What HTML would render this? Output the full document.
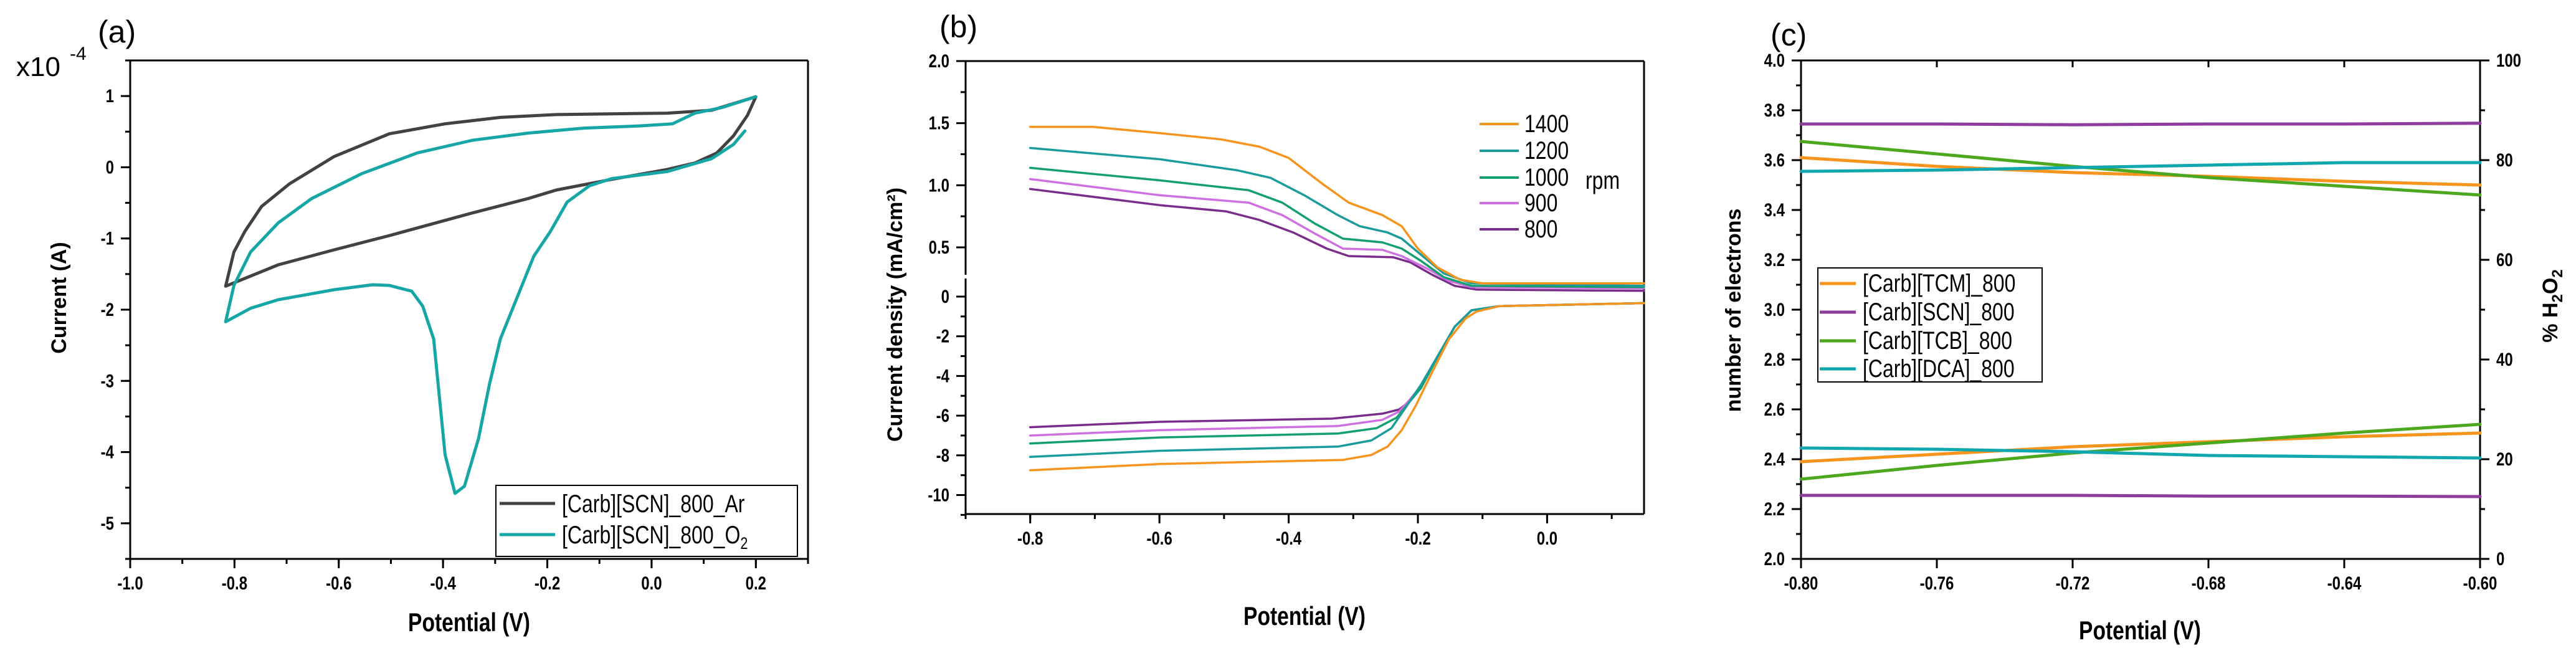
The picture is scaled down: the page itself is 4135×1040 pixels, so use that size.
<!DOCTYPE html>
<html><head><meta charset="utf-8">
<style>
html,body{margin:0;padding:0;background:#fff;}
svg{display:block;}
text{font-family:"Liberation Sans Narrow","Liberation Sans",sans-serif;}
.tk{font-weight:bold;font-size:30px;}
.ttl{font-weight:bold;font-size:42px;}
.yt{font-family:"Liberation Sans",sans-serif;font-weight:bold;font-size:34px;}
.lg{font-size:40px;}
.pl{font-family:"Liberation Sans",sans-serif;font-size:50px;}
</style></head>
<body>
<svg id="fig" xmlns="http://www.w3.org/2000/svg" width="4135" height="1040" viewBox="0 0 4135 1040"></svg>
<script>
// ---------- Panel (a) data: cyclic voltammetry ----------
const aArV = [-0.817,-0.801,-0.780,-0.748,-0.694,-0.609,-0.503,-0.396,-0.29,-0.183,0.030,0.115,0.2,0.184,0.157,0.125,0.083,0.03,-0.077,-0.183,-0.237,-0.343,-0.503,-0.609,-0.716,-0.817];
const aArI = [-1.67,-1.19,-0.9,-0.55,-0.23,0.15,0.47,0.61,0.70,0.74,0.76,0.80,0.99,0.73,0.44,0.2,0.06,-0.03,-0.17,-0.32,-0.44,-0.64,-0.96,-1.16,-1.37,-1.67];
const aO2V = [0.179,0.157,0.115,0.03,-0.077,-0.119,-0.162,-0.194,-0.226,-0.258,-0.29,-0.311,-0.332,-0.359,-0.377,-0.396,-0.418,-0.439,-0.46,-0.503,-0.535,-0.609,-0.716,-0.769,-0.817,-0.801,-0.769,-0.716,-0.652,-0.556,-0.450,-0.343,-0.237,-0.13,-0.024,0.04,0.083,0.136,0.2];
const aO2I = [0.51,0.32,0.12,-0.06,-0.16,-0.26,-0.49,-0.9,-1.25,-1.83,-2.41,-3.05,-3.81,-4.48,-4.58,-4.04,-2.41,-1.95,-1.74,-1.66,-1.65,-1.72,-1.86,-1.98,-2.17,-1.66,-1.19,-0.78,-0.44,-0.09,0.2,0.38,0.48,0.55,0.58,0.61,0.76,0.84,0.99];
const aXTicks = [-1.0,-0.8,-0.6,-0.4,-0.2,0.0,0.2];
const aXLabels = ["-1.0","-0.8","-0.6","-0.4","-0.2","0.0","0.2"];
const aYTicks = [1,0,-1,-2,-3,-4,-5];
const aYLabels = ["1","0","-1","-2","-3","-4","-5"];

// ---------- Panel (b) data: RRDE ----------
const bRpm = ["1400","1200","1000","900","800"];
const bUpV1400 = [-0.8,-0.703,-0.6,-0.505,-0.445,-0.4,-0.35,-0.307,-0.255,-0.225,-0.2,-0.17,-0.135,-0.1,0.15];
const bUpJ1400 = [1.47,1.47,1.42,1.37,1.31,1.22,1.02,0.86,0.76,0.67,0.49,0.34,0.24,0.21,0.21];
const bUpV1200 = [-0.8,-0.6,-0.479,-0.428,-0.376,-0.324,-0.29,-0.247,-0.225,-0.195,-0.16,-0.117,0.15];
const bUpJ1200 = [1.30,1.21,1.12,1.06,0.92,0.76,0.67,0.62,0.57,0.44,0.29,0.21,0.19];
const bUpV1000 = [-0.8,-0.6,-0.462,-0.41,-0.359,-0.316,-0.255,-0.225,-0.195,-0.16,-0.117,0.15];
const bUpJ1000 = [1.14,1.04,0.96,0.86,0.69,0.57,0.54,0.49,0.39,0.26,0.19,0.18];
const bUpV900 = [-0.8,-0.6,-0.462,-0.41,-0.359,-0.316,-0.255,-0.225,-0.186,-0.152,-0.117,0.15];
const bUpJ900 = [1.05,0.92,0.86,0.76,0.61,0.49,0.48,0.43,0.33,0.23,0.18,0.17];
const bUpV800 = [-0.8,-0.6,-0.497,-0.445,-0.393,-0.341,-0.307,-0.238,-0.212,-0.178,-0.143,-0.109,0.15];
const bUpJ800 = [0.97,0.84,0.79,0.72,0.62,0.49,0.43,0.42,0.38,0.28,0.19,0.16,0.15];
const bLoV1400 = [-0.8,-0.6,-0.316,-0.272,-0.247,-0.225,-0.203,-0.178,-0.152,-0.126,-0.109,-0.074,0.15];
const bLoJ1400 = [-8.75,-8.44,-8.23,-7.98,-7.56,-6.73,-5.48,-3.81,-2.15,-1.1,-0.75,-0.48,-0.33];
const bLoV1200 = [-0.8,-0.6,-0.324,-0.272,-0.241,-0.221,-0.195,-0.169,-0.143,-0.117,-0.074,0.15];
const bLoJ1200 = [-8.08,-7.77,-7.56,-7.25,-6.63,-5.69,-4.44,-2.98,-1.52,-0.69,-0.48,-0.33];
const bLoV1000 = [-0.8,-0.6,-0.324,-0.264,-0.233,-0.212,-0.195,-0.169,-0.143,-0.117,-0.074,0.15];
const bLoJ1000 = [-7.4,-7.1,-6.9,-6.63,-6.1,-5.27,-4.6,-3.0,-1.52,-0.69,-0.48,-0.33];
const bLoV900 = [-0.8,-0.6,-0.324,-0.255,-0.229,-0.212,-0.195,-0.169,-0.143,-0.117,-0.074,0.15];
const bLoJ900 = [-7.0,-6.73,-6.52,-6.21,-5.79,-5.17,-4.5,-3.0,-1.52,-0.69,-0.48,-0.33];
const bLoV800 = [-0.8,-0.6,-0.333,-0.255,-0.229,-0.212,-0.195,-0.169,-0.143,-0.117,-0.074,0.15];
const bLoJ800 = [-6.58,-6.31,-6.15,-5.9,-5.69,-5.27,-4.44,-2.98,-1.52,-0.69,-0.48,-0.33];
const bXTicks = [-0.8,-0.6,-0.4,-0.2,0.0];
const bXLabels = ["-0.8","-0.6","-0.4","-0.2","0.0"];
const bUpTicks = [2.0,1.5,1.0,0.5];
const bUpLabels = ["2.0","1.5","1.0","0.5"];
const bLoTicks = [0,-2,-4,-6,-8,-10];
const bLoLabels = ["0","-2","-4","-6","-8","-10"];

// ---------- Panel (c) data ----------
const cNames = ["[Carb][TCM]_800","[Carb][SCN]_800","[Carb][TCB]_800","[Carb][DCA]_800"];
const cV = [-0.8,-0.76,-0.72,-0.68,-0.64,-0.6];
const cNTCM = [3.61,3.575,3.55,3.535,3.515,3.50];
const cNSCN = [3.745,3.745,3.742,3.745,3.745,3.748];
const cNTCB = [3.675,3.625,3.575,3.53,3.495,3.46];
const cNDCA = [3.555,3.56,3.57,3.58,3.59,3.59];
const cHTCM = [19.5,21,22.5,23.5,24.5,25.25];
const cHSCN = [12.75,12.75,12.75,12.6,12.6,12.5];
const cHTCB = [16,18.75,21.25,23.25,25.25,27];
const cHDCA = [22.25,22,21.5,20.75,20.5,20.25];
const cXTicks = [-0.8,-0.76,-0.72,-0.68,-0.64,-0.6];
const cXLabels = ["-0.80","-0.76","-0.72","-0.68","-0.64","-0.60"];
const cYTicks = [2.0,2.2,2.4,2.6,2.8,3.0,3.2,3.4,3.6,3.8,4.0];
const cYLabels = ["2.0","2.2","2.4","2.6","2.8","3.0","3.2","3.4","3.6","3.8","4.0"];
const cRTicks = [0,20,40,60,80,100];
const cRLabels = ["0","20","40","60","80","100"];

const NS = "http://www.w3.org/2000/svg";
const fig = document.getElementById('fig');
const NARROW = {tk: 0.8, ttl: 0.8, lg: 0.8};
function mk(tag, parent, name, inter) {
  const e = document.createElementNS(NS, tag);
  
  
  parent.appendChild(e);
  return e;
}
function lin(d0, d1, p0, p1) { return v => p0 + (v - d0) * (p1 - p0) / (d1 - d0); }
function seg(parent, name, x1, y1, x2, y2, w) {
  const l = mk('line', parent, name, false);
  l.setAttribute('x1', x1); l.setAttribute('y1', y1); l.setAttribute('x2', x2); l.setAttribute('y2', y2);
  l.setAttribute('stroke', '#000'); l.setAttribute('stroke-width', w || 3);
  return l;
}
function txt(parent, name, s, x, y, cls, anchor) {
  const t = mk('text', parent, name, false);
  t.setAttribute('class', cls);
  t.setAttribute('text-anchor', anchor || 'start');
  if (NARROW[cls]) {
    t.setAttribute('x', 0); t.setAttribute('y', 0);
    t.setAttribute('transform', 'translate(' + x + ',' + y + ') scale(' + NARROW[cls] + ',1)');
  } else {
    t.setAttribute('x', x); t.setAttribute('y', y);
  }
  t.textContent = s;
  return t;
}
function curve(parent, name, xs, ys, X, Y, color, w) {
  const p = mk('polyline', parent, name, false);
  p.setAttribute('points', xs.map((v, i) => X(v).toFixed(1) + ',' + Y(ys[i]).toFixed(1)).join(' '));
  p.setAttribute('fill', 'none'); p.setAttribute('stroke', color);
  p.setAttribute('stroke-width', w); p.setAttribute('stroke-linejoin', 'round'); p.setAttribute('stroke-linecap', 'round');
  return p;
}

// ================= Panel A =================
(function () {
  const g = mk('g', fig, 'panel-a', false);
  const L = 209, R = 1297, T = 97, B = 897;
  const X = lin(-1.0, 0.3, L, R), Y = lin(1.5, -5.5, T, B);
  seg(g, 'plot-frame-top', L, T, R, T); seg(g, 'plot-frame-bottom', L - 8, B, R, B);
  seg(g, 'plot-frame-left', L, T, L, B); seg(g, 'plot-frame-right', R, T, R, B);
  for (let v = -1.0; v <= 0.301; v += 0.1) seg(g, 'x-minor-tick', X(v), B, X(v), B + 8);
  aXTicks.forEach((v, i) => { seg(g, 'x-major-tick', X(v), B, X(v), B + 15); txt(g, 'x-tick-label', aXLabels[i], X(v), 946, 'tk', 'middle'); });
  for (let v = -5.5; v <= 1.5; v += 0.5) seg(g, 'y-minor-tick', L - 8, Y(v), L, Y(v));
  aYTicks.forEach((v, i) => { seg(g, 'y-major-tick', L - 15, Y(v), L, Y(v)); txt(g, 'y-tick-label', aYLabels[i], L - 26, Y(v) + 10, 'tk', 'end'); });
  curve(g, 'series-ar', aArV, aArI, X, Y, '#424242', 5);
  curve(g, 'series-o2', aO2V, aO2I, X, Y, '#17a6a6', 5);
  txt(g, 'x-axis-title', 'Potential (V)', 753, 1013, 'ttl', 'middle');
  const yt = txt(g, 'y-axis-title', 'Current (A)', 0, 0, 'yt', 'middle');
  yt.setAttribute('transform', 'translate(106,478) rotate(-90)');
  const sc = txt(g, 'y-scale-factor', 'x10', 26, 122, 'pl', 'start'); sc.setAttribute('style', 'font-size:44px');
  const ex = txt(g, 'y-scale-exponent', '-4', 112, 96, 'pl', 'start'); ex.setAttribute('style', 'font-size:30px');
  txt(g, 'panel-label-a', '(a)', 157, 68, 'pl');
  const lb = mk('rect', g, 'legend-box', false);
  lb.setAttribute('x', 796); lb.setAttribute('y', 779); lb.setAttribute('width', 484); lb.setAttribute('height', 114);
  lb.setAttribute('fill', '#fff'); lb.setAttribute('stroke', '#000'); lb.setAttribute('stroke-width', 2);
  const l1 = seg(g, 'legend-swatch-ar', 802, 808, 891, 808, 5); l1.setAttribute('stroke', '#424242');
  txt(g, 'legend-label-ar', '[Carb][SCN]_800_Ar', 902, 822, 'lg');
  const l2 = seg(g, 'legend-swatch-o2', 802, 858, 891, 858, 5); l2.setAttribute('stroke', '#17a6a6');
  const t2 = txt(g, 'legend-label-o2', '[Carb][SCN]_800_O', 902, 872, 'lg');
  const sub = mk('tspan', t2, 'subscript-2', false); sub.setAttribute('dy', 9); sub.setAttribute('style', 'font-size:27px'); sub.textContent = '2';
})();

// ================= Panel B =================
(function () {
  const g = mk('g', fig, 'panel-b', false);
  const L = 1550, R = 2639, T = 98, B = 825, BRK = 445;
  const X = lin(-0.9, 0.15, L, R);
  const YU = lin(2.0, 0.5, 98, 397);
  const YL = lin(0, -10, 476, 794.5);
  seg(g, 'plot-frame-top', L, T, R, T); seg(g, 'plot-frame-bottom', L, B, R, B);
  seg(g, 'plot-frame-left-upper', L, T, L, BRK - 4); seg(g, 'plot-frame-left-lower', L, BRK + 2, L, B);
  seg(g, 'plot-frame-right', R, T, R, B);
  for (let v = -0.9; v <= 0.151; v += 0.1) seg(g, 'x-minor-tick', X(v), B, X(v), B + 8);
  bXTicks.forEach((v, i) => { seg(g, 'x-major-tick', X(v), B, X(v), B + 15); txt(g, 'x-tick-label', bXLabels[i], X(v), 874, 'tk', 'middle'); });
  for (let v = 1.75; v >= 0.26; v -= 0.5) seg(g, 'y-minor-tick-upper', L - 8, YU(v), L, YU(v));
  bUpTicks.forEach((v, i) => { seg(g, 'y-major-tick-upper', L - 15, YU(v), L, YU(v)); txt(g, 'y-tick-label-upper', bUpLabels[i], L - 26, YU(v) + 10, 'tk', 'end'); });
  for (let v = -1; v >= -11; v -= 2) seg(g, 'y-minor-tick-lower', L - 8, YL(v), L, YL(v));
  bLoTicks.forEach((v, i) => { seg(g, 'y-major-tick-lower', L - 15, YL(v), L, YL(v)); txt(g, 'y-tick-label-lower', bLoLabels[i], L - 26, YL(v) + 10, 'tk', 'end'); });
  const cols = ['#f7941d', '#1a9c9c', '#14a06e', '#cf70e0', '#7b2d8b'];
  const up = [[bUpV1400, bUpJ1400], [bUpV1200, bUpJ1200], [bUpV1000, bUpJ1000], [bUpV900, bUpJ900], [bUpV800, bUpJ800]];
  const lo = [[bLoV1400, bLoJ1400], [bLoV1200, bLoJ1200], [bLoV1000, bLoJ1000], [bLoV900, bLoJ900], [bLoV800, bLoJ800]];
  for (let i = 4; i >= 0; i--) {
    curve(g, 'ring-current-' + bRpm[i], up[i][0], up[i][1], X, YU, cols[i], 3.5);
    curve(g, 'disk-current-' + bRpm[i], lo[i][0], lo[i][1], X, YL, cols[i], 3.5);
  }
  const ly = [199, 242, 285, 326, 368];
  bRpm.forEach((r, i) => {
    const s = seg(g, 'legend-swatch-' + r, 2375, ly[i], 2438, ly[i], 4); s.setAttribute('stroke', cols[i]);
    txt(g, 'legend-label-' + r, r, 2447, ly[i] + 13, 'lg');
  });
  txt(g, 'legend-unit-rpm', 'rpm', 2545, 303, 'lg');
  txt(g, 'x-axis-title', 'Potential (V)', 2094, 1003, 'ttl', 'middle');
  const yt = txt(g, 'y-axis-title', 'Current density (mA/cm²)', 0, 0, 'yt', 'middle');
  yt.setAttribute('transform', 'translate(1448,505) rotate(-90)');
  txt(g, 'panel-label-b', '(b)', 1508, 60, 'pl');
})();

// ================= Panel C =================
(function () {
  const g = mk('g', fig, 'panel-c', false);
  const L = 2891, R = 3981, T = 97, B = 897;
  const X = lin(-0.8, -0.6, L, R), Y = lin(4.0, 2.0, T, B), YR = lin(100, 0, T, B);
  seg(g, 'plot-frame-top', L, T, R, T); seg(g, 'plot-frame-bottom', L - 15, B, R, B);
  seg(g, 'plot-frame-left', L, T, L, B); seg(g, 'plot-frame-right', R, T, R, B);
  cXTicks.forEach((v, i) => {
    seg(g, 'x-major-tick', X(v), B, X(v), B + 15);
    seg(g, 'x-top-tick', X(v), T, X(v), T + 11);
    txt(g, 'x-tick-label', cXLabels[i], X(v), 946, 'tk', 'middle');
  });
  for (let v = 2.1; v < 4.0; v += 0.2) seg(g, 'y-minor-tick', L - 8, Y(v), L, Y(v));
  cYTicks.forEach((v, i) => { seg(g, 'y-major-tick', L - 15, Y(v), L, Y(v)); txt(g, 'y-tick-label', cYLabels[i], L - 26, Y(v) + 10, 'tk', 'end'); });
  for (let v = 10; v < 100; v += 20) seg(g, 'y2-minor-tick', R, YR(v), R + 8, YR(v));
  cRTicks.forEach((v, i) => { seg(g, 'y2-major-tick', R, YR(v), R + 15, YR(v)); txt(g, 'y2-tick-label', cRLabels[i], R + 26, YR(v) + 10, 'tk', 'start'); });
  const cols = ['#f7941d', '#8e3c9e', '#4ca81e', '#10a8ae'];
  const nS = [cNTCM, cNSCN, cNTCB, cNDCA], hS = [cHTCM, cHSCN, cHTCB, cHDCA];
  const keys = ['tcm', 'scn', 'tcb', 'dca'];
  for (let i = 0; i < 4; i++) {
    curve(g, 'electrons-' + keys[i], cV, nS[i], X, Y, cols[i], 5);
    curve(g, 'h2o2-' + keys[i], cV, hS[i], X, YR, cols[i], 5);
  }
  const lb = mk('rect', g, 'legend-box', false);
  lb.setAttribute('x', 2918); lb.setAttribute('y', 430); lb.setAttribute('width', 360); lb.setAttribute('height', 183);
  lb.setAttribute('fill', '#fff'); lb.setAttribute('stroke', '#000'); lb.setAttribute('stroke-width', 2);
  const ly = [455, 501, 547, 592];
  cNames.forEach((n, i) => {
    const s = seg(g, 'legend-swatch-' + keys[i], 2921, ly[i], 2979, ly[i], 5); s.setAttribute('stroke', cols[i]);
    txt(g, 'legend-label-' + keys[i], n, 2990, ly[i] + 13, 'lg');
  });
  txt(g, 'x-axis-title', 'Potential (V)', 3435, 1026, 'ttl', 'middle');
  const yt = txt(g, 'y-axis-title', 'number of electrons', 0, 0, 'yt', 'middle');
  yt.setAttribute('transform', 'translate(2794,498) rotate(-90)');
  const y2 = txt(g, 'y2-axis-title', '% H', 0, 0, 'yt', 'middle');
  y2.setAttribute('transform', 'translate(4105,491) rotate(-90)');
  const s1 = mk('tspan', y2, 'subscript-2', false); s1.setAttribute('dy', 8); s1.setAttribute('style', 'font-size:24px'); s1.textContent = '2';
  const s2 = mk('tspan', y2, 'oxygen-o', false); s2.setAttribute('dy', -8); s2.textContent = 'O';
  const s3 = mk('tspan', y2, 'subscript-2', false); s3.setAttribute('dy', 8); s3.setAttribute('style', 'font-size:24px'); s3.textContent = '2';
  txt(g, 'panel-label-c', '(c)', 2842, 73, 'pl');
})();
</script>
</body></html>
